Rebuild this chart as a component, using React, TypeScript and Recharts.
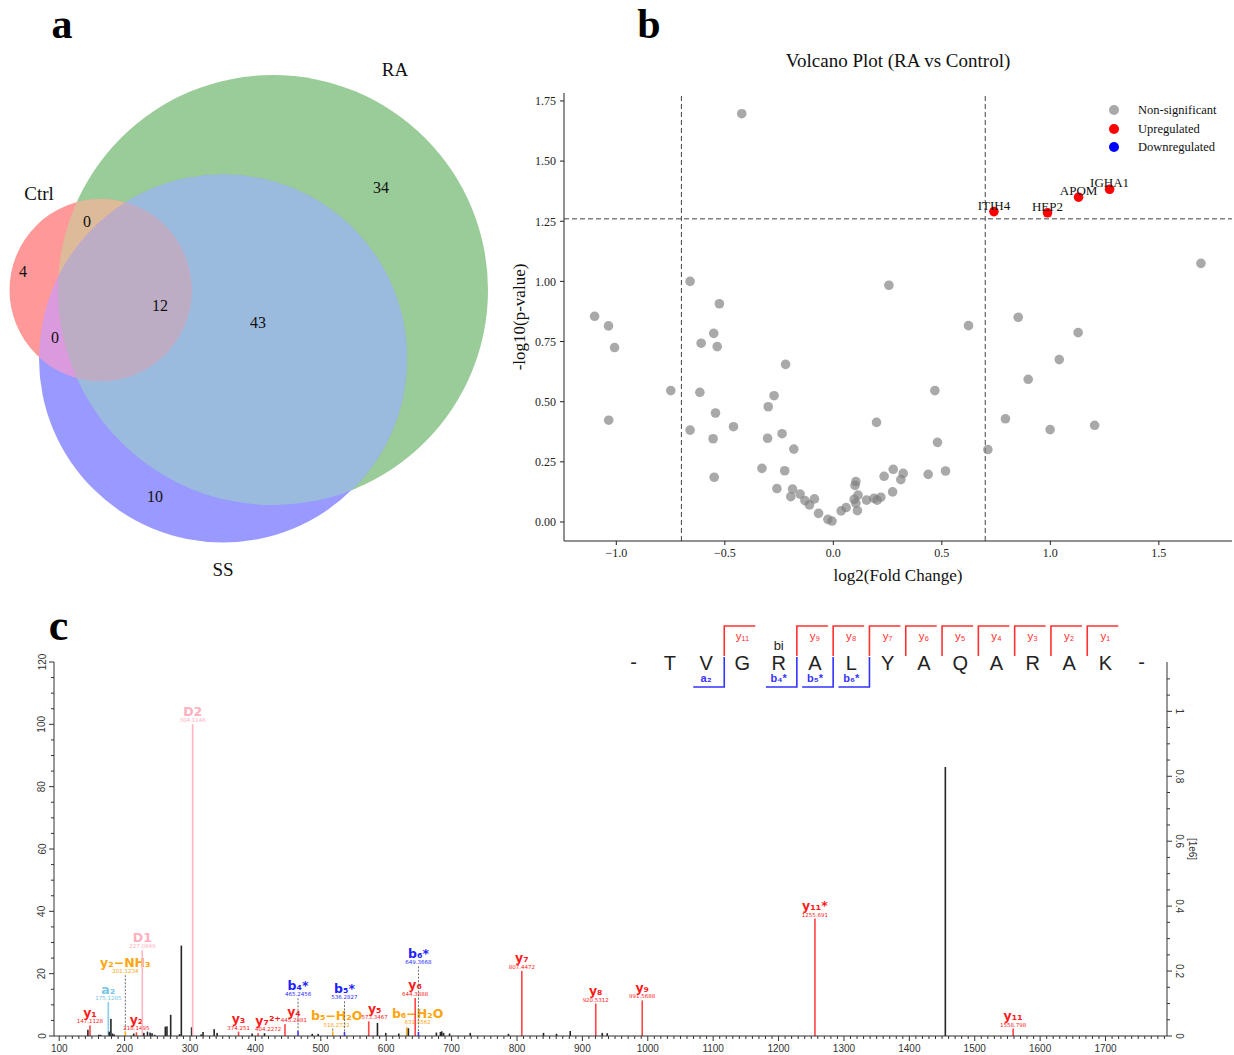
import React from 'react';
import {
  ScatterChart,
  Scatter,
  ComposedChart,
  Bar,
  XAxis,
  YAxis,
  ReferenceLine,
  Legend,
  Label,
} from 'recharts';

const SERIF = '"Liberation Serif", "Times New Roman", serif';
const SANS = '"Liberation Sans", Arial, sans-serif';
const DEJAVU = '"DejaVu Sans", Verdana, sans-serif';

/* ================= Panel a : Venn diagram data ================= */
const vennSetNames = ['RA', 'SS', 'Ctrl'];
const vennCenterX = [273, 223, 100.5];
const vennCenterY = [290, 358.5, 290];
const vennRadius = [215, 184, 91];
const vennNameX = [395, 223, 39];
const vennNameY = [69, 569, 193];
const vennRegionCounts = [34, 10, 4, 43, 0, 0, 12]; // RA only, SS only, Ctrl only, RA&SS, Ctrl&RA, Ctrl&SS, all three
const vennRegionX = [381, 155, 23, 258, 87, 55, 160];
const vennRegionY = [187, 496, 271, 322, 221, 337, 305];
const vennOverlapBase = ['SS', 'Ctrl', 'Ctrl', 'Ctrl'];
const vennOverlapClips = [['RA'], ['RA'], ['SS'], ['RA', 'SS']];

/* ================= Panel b : Volcano data ================= */
const nsLog2FC = [
  -0.422, -0.66, -1.1, -1.036, -1.008, -0.525, -0.551, -0.609, -0.535, -0.22,
  -0.749, -0.615, -0.273, -0.3, -1.035, -0.543, -0.46, -0.66, -0.554, -0.303,
  -0.236, -0.182, -0.329, -0.224, -0.549, -0.26, -0.188, -0.196, -0.153, -0.131,
  -0.11, -0.087, -0.068, -0.025, -0.006, 0.036, 0.059, 0.096, 0.104, 0.1,
  0.114, 0.104, 0.111, 0.153, 0.187, 0.202, 0.219, 0.199, 0.234, 0.256,
  0.276, 0.322, 0.311, 0.273, 0.437, 0.517, 0.468, 0.48, 0.623, 0.852,
  1.128, 1.041, 0.898, 0.793, 0.999, 1.204, 0.712, 1.694,
];
const nsNegLog10P = [
  1.697, 1.0, 0.855, 0.815, 0.725, 0.907, 0.784, 0.743, 0.729, 0.655,
  0.546, 0.539, 0.525, 0.479, 0.423, 0.453, 0.396, 0.382, 0.346, 0.348,
  0.367, 0.303, 0.223, 0.213, 0.186, 0.139, 0.137, 0.105, 0.116, 0.089,
  0.071, 0.096, 0.036, 0.011, 0.004, 0.046, 0.06, 0.094, 0.168, 0.152,
  0.112, 0.078, 0.047, 0.091, 0.098, 0.091, 0.103, 0.414, 0.19, 0.984,
  0.219, 0.202, 0.176, 0.125, 0.198, 0.212, 0.546, 0.331, 0.816, 0.851,
  0.787, 0.675, 0.593, 0.429, 0.384, 0.402, 0.301, 1.075,
];
const upGenes = ['ITIH4', 'HEP2', 'APOM', 'IGHA1'];
const upLog2FC = [0.74, 0.987, 1.13, 1.273];
const upNegLog10P = [1.29, 1.285, 1.35, 1.383];
const downGenes: string[] = [];
const downLog2FC: number[] = [];
const downNegLog10P: number[] = [];
const fcCutoffs = [-0.7, 0.7];
const pCutoff = 1.26;
const volcanoXTicks = [-1, -0.5, 0, 0.5, 1, 1.5];
const volcanoYTicks = [0, 0.25, 0.5, 0.75, 1, 1.25, 1.5, 1.75];
const legendNames = ['Non-significant', 'Upregulated', 'Downregulated'];

/* ================= Panel c : MS/MS spectrum data ================= */
const otherMz = [
  143.9, 160.7, 163.3, 176.5, 179.1, 181.7, 184.2, 214, 229.5, 235, 239, 242, 246,
  262.3, 264.8, 270.5, 284, 286.8, 302.5, 317, 320, 337, 341.5, 395, 414, 487, 496,
  586.7, 599.4, 619.3, 634, 676.8, 683, 685, 687.8, 697, 728.6, 787, 840.6, 860.6,
  881.5, 930.5, 938, 1455.1,
];
const otherInt = [
  2.0, 0.4, 0.4, 1.4, 5.5, 0.8, 0.5, 0.8, 1.0, 1.4, 1.1, 0.9, 0.4,
  3.0, 3.1, 6.8, 0.6, 29, 2.8, 0.5, 1.3, 2.2, 1.0, 0.8, 0.9, 0.7, 0.7,
  4.2, 1.0, 0.8, 2.5, 1.1, 1.3, 1.5, 1.0, 0.8, 1.0, 0.7, 1.0, 0.7,
  1.6, 1.0, 0.9, 86.3,
];
const yIonNames = ['y₁', 'y₂', 'y₃', 'y₇²⁺', 'y₄', 'y₅', 'y₆', 'y₇', 'y₈', 'y₉', 'y₁₁*', 'y₁₁'];
const yIonMz = [147.1128, 218.1495, 374.251, 404.2272, 445.2881, 573.3467, 644.3888, 807.4472, 920.5312, 991.5688, 1255.691, 1558.798];
const yIonInt = [3.4, 1.2, 1.4, 0.9, 3.8, 4.7, 12.2, 20.9, 10.4, 11.4, 37.7, 2.4];
const bIonNames = ['b₄*', 'b₅*', 'b₆*'];
const bIonMz = [465.2456, 536.2827, 649.3668];
const bIonInt = [1.6, 1.3, 1.3];
const bIonLabelAt = [12.1, 11.1, 22.4];
const lossNames = ['y₂−NH₃', 'b₅−H₂O', 'b₆−H₂O'];
const lossMz = [201.1234, 518.2722, 631.3562];
const lossInt = [1.4, 1.5, 2.8];
const lossLabelAt = [19.5, 2.4, 3.2];
const aIonNames = ['a₂'];
const aIonMz = [175.1285];
const aIonInt = [10.9];
const diagNames = ['D1', 'D2'];
const diagMz = [227.0849, 304.1148];
const diagInt = [27.5, 100];
const mzTicks = Array.from({ length: 170 }, (_, i) => 100 + i * 10);
const relTicks = Array.from({ length: 25 }, (_, i) => i * 5);
const absTicks = Array.from({ length: 23 }, (_, i) => Number((i * 0.05).toFixed(2)));

const peptide = ['T', 'V', 'G', 'R', 'A', 'L', 'Y', 'A', 'Q', 'A', 'R', 'A', 'K'];
const yCoverage = [11, 9, 8, 7, 6, 5, 4, 3, 2, 1];
const yCoverageLabels = ['y₁₁', 'y₉', 'y₈', 'y₇', 'y₆', 'y₅', 'y₄', 'y₃', 'y₂', 'y₁'];
const bCoverage = [2, 4, 5, 6];
const bCoverageLabels = ['a₂', 'b₄*', 'b₅*', 'b₆*'];

/* ================= styles ================= */
const VENN_W = 500;
const VENN_H = 600;
const VENN_XDOMAIN = [0, 500];
const VENN_YDOMAIN = [0, 600];
const VENN_SET_FILL: Record<string, string> = { RA: '#99CC99', SS: '#9999FF', Ctrl: '#FF9999' };
const VENN_OVERLAP_FILL = ['#9ABBDE', '#DDBB98', '#DA9ADD', '#BDADC4'];

const PEAK_COLOR: Record<string, string> = {
  other: '#262626', y: '#FF4545', b: '#3A3AFF', loss: '#FFB020', a: '#87CEEB', D: '#FFB6C1',
};
const LABEL_COLOR: Record<string, string> = {
  other: '#262626', y: '#FF1A1A', b: '#1F1FFF', loss: '#FFA510', a: '#78C4E6', D: '#FFB0BE',
};
// horizontal nudges (px) of some peak annotations, as in the reference, to avoid collisions
const LABEL_NUDGE: Record<string, number> = {
  'y₇²⁺': 10, 'y₄': 9, 'y₅': 6, 'b₅−H₂O': 4, 'b₆−H₂O': 11,
};
const LEGEND_COLORS = ['rgba(128,128,128,0.68)', '#FF0000', '#0000FF'];

/* ================= Venn ================= */
const vennK = VENN_W / (VENN_XDOMAIN[1] - VENN_XDOMAIN[0]);

function VennSetShape(props: any) {
  const { cx, cy, payload } = props;
  const r = payload.r * vennK;
  return (
    <g>
      <clipPath id={`venn-clip-${payload.name}`}>
        <circle cx={cx} cy={cy} r={r} />
      </clipPath>
      <circle cx={cx} cy={cy} r={r} fill={VENN_SET_FILL[payload.name]} />
    </g>
  );
}

function VennOverlapShape(props: any) {
  const { cx, cy, payload } = props;
  const r = payload.r * vennK;
  let el: any = <circle cx={cx} cy={cy} r={r} fill={payload.fill} />;
  payload.clips.forEach((c: string) => {
    el = <g clipPath={`url(#venn-clip-${c})`}>{el}</g>;
  });
  return el;
}

function VennTextShape(props: any) {
  const { cx, cy, payload } = props;
  return (
    <text x={cx} y={cy} textAnchor="middle" dominantBaseline="central" fontFamily={SERIF}
      fontSize={payload.big ? 19 : 16} fill="#111">
      {payload.text}
    </text>
  );
}

function VennPanel() {
  const sets = vennSetNames.map((name, i) => ({ name, x: vennCenterX[i], y: vennCenterY[i], r: vennRadius[i] }));
  const overlaps = vennOverlapBase.map((name, i) => {
    const k = vennSetNames.indexOf(name);
    return { name, x: vennCenterX[k], y: vennCenterY[k], r: vennRadius[k], clips: vennOverlapClips[i], fill: VENN_OVERLAP_FILL[i] };
  });
  const counts = vennRegionCounts.map((c, i) => ({ x: vennRegionX[i], y: vennRegionY[i], text: String(c) }));
  const names = vennSetNames.map((n, i) => ({ x: vennNameX[i], y: vennNameY[i], text: n, big: true }));
  return (
    <ScatterChart width={VENN_W} height={VENN_H} margin={{ top: 0, right: 0, bottom: 0, left: 0 }}>
      <XAxis type="number" dataKey="x" domain={VENN_XDOMAIN} allowDataOverflow hide />
      <YAxis type="number" dataKey="y" domain={VENN_YDOMAIN} allowDataOverflow reversed hide />
      <Scatter data={sets} isAnimationActive={false} shape={VennSetShape} />
      <Scatter data={overlaps} isAnimationActive={false} shape={VennOverlapShape} />
      <Scatter data={counts} isAnimationActive={false} shape={VennTextShape} />
      <Scatter data={names} isAnimationActive={false} shape={VennTextShape} />
    </ScatterChart>
  );
}

/* ================= Volcano ================= */
const fmtFC = (v: number) => (v < 0 ? '\u2212' : '') + Math.abs(v).toFixed(1);

function GreyDot(props: any) {
  const { cx, cy } = props;
  return <circle cx={cx} cy={cy} r={4.8} fill="#808080" fillOpacity={0.68} />;
}

function UpDot(props: any) {
  const { cx, cy, payload } = props;
  return (
    <g>
      <circle cx={cx} cy={cy} r={4.8} fill="#FF0000" />
      <text x={cx} y={cy - 2} textAnchor="middle" fontFamily={SERIF} fontSize={13} fill="#111">
        {payload.gene}
      </text>
    </g>
  );
}

function DownDot(props: any) {
  const { cx, cy } = props;
  return <circle cx={cx} cy={cy} r={4.8} fill="#0000FF" />;
}

function VolcanoLegend() {
  return (
    <div style={{ fontFamily: SERIF, fontSize: 12.5, color: '#111', lineHeight: 1 }}>
      {legendNames.map((n, i) => (
        <div key={n} style={{ display: 'flex', alignItems: 'center', height: 18.5 }}>
          <span style={{ display: 'inline-block', width: 10, height: 10, borderRadius: '50%', background: LEGEND_COLORS[i] }} />
          <span style={{ marginLeft: 19 }}>{n}</span>
        </div>
      ))}
    </div>
  );
}

function VolcanoPanel() {
  const ns = nsLog2FC.map((x, i) => ({ x, y: nsNegLog10P[i] }));
  const up = upGenes.map((gene, i) => ({ gene, x: upLog2FC[i], y: upNegLog10P[i] }));
  const down = downGenes.map((gene, i) => ({ gene, x: downLog2FC[i], y: downNegLog10P[i] }));
  const tickStyle = { fill: '#222', fontSize: 12, fontFamily: SERIF };
  return (
    <ScatterChart width={734} height={560} margin={{ top: 53, right: 2, bottom: 0, left: 0 }}>
      <XAxis type="number" dataKey="x" domain={[-1.241, 1.837]} allowDataOverflow ticks={volcanoXTicks}
        interval={0} tickFormatter={fmtFC} height={59} tickSize={4} tickMargin={3}
        stroke="#222" tick={tickStyle}>
        <Label value="log2(Fold Change)" position="center" dy={4} fontFamily={SERIF} fontSize={17} fill="#111" />
      </XAxis>
      <YAxis type="number" dataKey="y" domain={[-0.079, 1.783]} allowDataOverflow ticks={volcanoYTicks}
        interval={0} tickFormatter={(v: number) => v.toFixed(2)} width={64} tickSize={4} tickMargin={4}
        stroke="#222" tick={tickStyle}>
        <Label value="-log10(p-value)" angle={-90} position="center" dx={-13} fontFamily={SERIF} fontSize={17} fill="#111" />
      </YAxis>
      <ReferenceLine x={fcCutoffs[0]} stroke="#444" strokeDasharray="5 3" />
      <ReferenceLine x={fcCutoffs[1]} stroke="#444" strokeDasharray="5 3" />
      <ReferenceLine y={pCutoff} stroke="#444" strokeDasharray="5 3" />
      <Scatter name={legendNames[0]} data={ns} fill="#808080" isAnimationActive={false} shape={GreyDot} />
      <Scatter name={legendNames[1]} data={up} fill="#FF0000" isAnimationActive={false} shape={UpDot} />
      <Scatter name={legendNames[2]} data={down} fill="#0000FF" isAnimationActive={false} shape={DownDot} />
      <Legend layout="vertical" align="center" verticalAlign="middle"
        wrapperStyle={{ left: 609, top: 61, width: 124 }} content={VolcanoLegend} />
    </ScatterChart>
  );
}

/* ================= Spectrum ================= */
type Peak = { mz: number; h: number; kind: string; name?: string; mass?: string; labelAt?: number };

const spectrumPeaks: Peak[] = [
  ...otherMz.map((mz, i) => ({ mz, h: otherInt[i], kind: 'other' })),
  ...yIonMz.map((mz, i) => ({ mz, h: yIonInt[i], kind: 'y', name: yIonNames[i], mass: String(mz) })),
  ...bIonMz.map((mz, i) => ({ mz, h: bIonInt[i], kind: 'b', name: bIonNames[i], mass: String(mz), labelAt: bIonLabelAt[i] })),
  ...lossMz.map((mz, i) => ({ mz, h: lossInt[i], kind: 'loss', name: lossNames[i], mass: String(mz), labelAt: lossLabelAt[i] })),
  ...aIonMz.map((mz, i) => ({ mz, h: aIonInt[i], kind: 'a', name: aIonNames[i], mass: String(mz) })),
  ...diagMz.map((mz, i) => ({ mz, h: diagInt[i], kind: 'D', name: diagNames[i], mass: String(mz) })),
].sort((p, q) => p.mz - q.mz);

function PeakShape(props: any) {
  const { x, y, width, height, payload } = props;
  if (!payload || x == null || y == null) return null;
  const cx = x + (width || 0) / 2;
  const h = Math.max(height || 0, 0);
  const out: any[] = [
    <rect key="p" x={cx - 0.8} y={y} width={1.6} height={h} fill={PEAK_COLOR[payload.kind]} />,
  ];
  if (payload.name) {
    const unit = payload.h > 0 ? h / payload.h : 0;
    const base = payload.labelAt != null ? y - (payload.labelAt - payload.h) * unit : y;
    if (payload.labelAt != null && y - base > 2) {
      out.push(<line key="d" x1={cx} x2={cx} y1={base} y2={y} stroke="#6b6b6b" strokeWidth={1} strokeDasharray="2 1.5" />);
    }
    const col = LABEL_COLOR[payload.kind];
    const lx = cx + (LABEL_NUDGE[payload.name] || 0);
    out.push(
      <text key="m" x={lx} y={base - 2} textAnchor="middle" fontFamily={DEJAVU} fontSize={5.5} fill={col}>
        {payload.mass}
      </text>,
    );
    out.push(
      <text key="n" x={lx} y={base - 8.5} textAnchor="middle" fontFamily={DEJAVU} fontWeight="bold" fontSize={12.5} fill={col}>
        {payload.name}
      </text>,
    );
  }
  return <g>{out}</g>;
}

function BottomTick(props: any) {
  const { x, y, payload } = props;
  const v = payload.value;
  const major = v % 100 === 0;
  return (
    <g>
      <line x1={x} x2={x} y1={y} y2={y + (major ? 5 : 3)} stroke="#333" strokeWidth={1} />
      {major && (
        <text x={x} y={y + 12} textAnchor="middle" dominantBaseline="central" fontFamily={SANS} fontSize={10} fill="#333">
          {v}
        </text>
      )}
    </g>
  );
}

function LeftTick(props: any) {
  const { x, y, payload } = props;
  const v = payload.value;
  const major = v % 20 === 0;
  return (
    <g>
      <line x1={x} x2={x - (major ? 5 : 3)} y1={y} y2={y} stroke="#333" strokeWidth={1} />
      {major && (
        <text x={x - 12} y={y} transform={`rotate(-90 ${x - 12} ${y})`} textAnchor="middle" dominantBaseline="central"
          fontFamily={SANS} fontSize={10} fill="#333">
          {v}
        </text>
      )}
    </g>
  );
}

function RightTick(props: any) {
  const { x, y, payload } = props;
  const v = payload.value;
  const idx = Math.round(v / 0.05);
  const major = idx % 4 === 0;
  return (
    <g>
      <line x1={x} x2={x + (major ? 5 : 3)} y1={y} y2={y} stroke="#333" strokeWidth={1} />
      {major && (
        <text x={x + 12} y={y} transform={`rotate(90 ${x + 12} ${y})`} textAnchor="middle" dominantBaseline="central"
          fontFamily={SANS} fontSize={10} fill="#333">
          {String(Number(v.toFixed(2)))}
        </text>
      )}
    </g>
  );
}

function SpectrumPanel() {
  return (
    <ComposedChart width={1234} height={455} data={spectrumPeaks} margin={{ top: 62, right: 0, bottom: 0, left: 0 }}>
      <XAxis type="number" dataKey="mz" domain={[92, 1794]} allowDataOverflow ticks={mzTicks} interval={0}
        height={19} tickSize={0} tickMargin={0} tickLine={false} axisLine={{ stroke: '#333' }} tick={BottomTick} />
      <YAxis yAxisId="left" type="number" domain={[0, 120]} allowDataOverflow ticks={relTicks} interval={0}
        width={54} tickSize={0} tickMargin={0} tickLine={false} axisLine={{ stroke: '#333' }} tick={LeftTick} />
      <YAxis yAxisId="right" orientation="right" type="number" domain={[0, 1.152]} allowDataOverflow ticks={absTicks}
        interval={0} width={67} tickSize={0} tickMargin={0} tickLine={false} axisLine={{ stroke: '#333' }} tick={RightTick}>
        <Label value="[1e6]" angle={90} position="center" dx={-8} fontFamily={SANS} fontSize={10} fill="#333" />
      </YAxis>
      <Bar yAxisId="left" dataKey="h" barSize={2} isAnimationActive={false} shape={PeakShape} />
    </ComposedChart>
  );
}

/* ================= Overlay: letters, title, peptide sequence ================= */
const SEQ_X0 = 669.8;
const SEQ_DX = 36.3;

function Overlay() {
  const boundary = (k: number) => SEQ_X0 + (k - 1) * SEQ_DX + SEQ_DX / 2;
  return (
    <svg width={1234} height={1055} style={{ position: 'absolute', left: 0, top: 0, pointerEvents: 'none' }}>
      <text x={62} y={38} textAnchor="middle" fontFamily={SERIF} fontWeight="bold" fontSize={42} fill="#000">a</text>
      <text x={649} y={38} textAnchor="middle" fontFamily={SERIF} fontWeight="bold" fontSize={42} fill="#000">b</text>
      <text x={58.5} y={640} textAnchor="middle" fontFamily={SERIF} fontWeight="bold" fontSize={44} fill="#000">c</text>
      <text x={898} y={67} textAnchor="middle" fontFamily={SERIF} fontSize={19} fill="#111">Volcano Plot (RA vs Control)</text>

      {/* peptide sequence */}
      <text x={SEQ_X0 - SEQ_DX} y={669} textAnchor="middle" fontFamily={SANS} fontSize={20} fill="#222">-</text>
      {peptide.map((aa, i) => (
        <text key={`aa${i}`} x={SEQ_X0 + i * SEQ_DX} y={670} textAnchor="middle" fontFamily={SANS} fontSize={20} fill="#222">
          {aa}
        </text>
      ))}
      <text x={SEQ_X0 + peptide.length * SEQ_DX} y={669} textAnchor="middle" fontFamily={SANS} fontSize={20} fill="#222">-</text>
      <text x={SEQ_X0 + 3 * SEQ_DX} y={650} textAnchor="middle" fontFamily={SANS} fontSize={13} fill="#222">bi</text>

      {yCoverage.map((n, i) => {
        const bx = boundary(peptide.length - n);
        return (
          <g key={`y${n}`}>
            <polyline points={`${bx},656 ${bx},626 ${bx + 31},626`} fill="none" stroke="#FF3030" strokeWidth={1.6} />
            <text x={bx + SEQ_DX / 2} y={640} textAnchor="middle" fontFamily={SANS} fontSize={11.5} fill="#FF3030">
              {yCoverageLabels[i]}
            </text>
          </g>
        );
      })}
      {bCoverage.map((n, i) => {
        const bx = boundary(n);
        return (
          <g key={`b${n}`}>
            <polyline points={`${bx},657 ${bx},687 ${bx - 31},687`} fill="none" stroke="#3333FF" strokeWidth={1.6} />
            <text x={bx - SEQ_DX / 2} y={682} textAnchor="middle" fontFamily={SANS} fontWeight="bold" fontSize={11} fill="#3333FF">
              {bCoverageLabels[i]}
            </text>
          </g>
        );
      })}
    </svg>
  );
}

export default function App() {
  return (
    <div style={{ position: 'absolute', left: 0, top: 0, width: 1234, height: 1055, background: '#fff', overflow: 'hidden' }}>
      <div style={{ position: 'absolute', left: 0, top: 0 }}>
        <VennPanel />
      </div>
      <div style={{ position: 'absolute', left: 500, top: 40 }}>
        <VolcanoPanel />
      </div>
      <div style={{ position: 'absolute', left: 0, top: 600 }}>
        <SpectrumPanel />
      </div>
      <Overlay />
    </div>
  );
}
